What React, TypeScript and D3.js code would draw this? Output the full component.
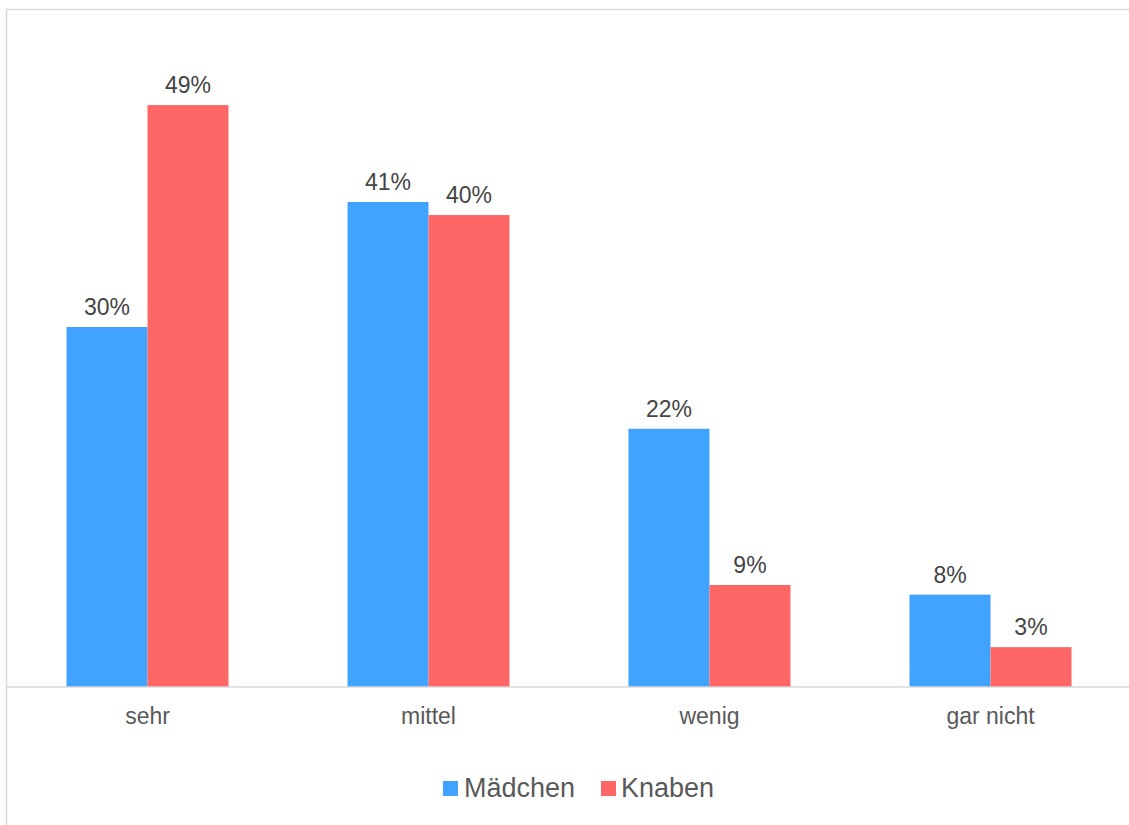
import React from "react";
import * as d3 from "d3";

const categories = ["sehr", "mittel", "wenig", "gar nicht"];
const seriesNames = ["Mädchen", "Knaben"];
const maedchen = [30.25, 40.76, 21.7, 7.76];
const knaben = [48.9, 39.66, 8.57, 3.35];
const colors = ["#40A3FF", "#FF6666"];

const W = 1129;
const H = 825;
const FONT = "'Liberation Sans', Arial, sans-serif";

export default function App() {
  const baseline = 687;
  const x0 = d3
    .scaleBand<string>()
    .domain(categories)
    .range([7, 1131])
    .paddingInner(0.4235)
    .paddingOuter(0.21175);
  const x1 = d3
    .scaleBand<string>()
    .domain(seriesNames)
    .range([0, x0.bandwidth()]);
  const y = d3.scaleLinear().domain([0, 50]).range([baseline, baseline - 595]);
  const data = [maedchen, knaben];

  return (
    <div style={{ position: "fixed", left: 0, top: 0, width: W, height: H, overflow: "hidden", background: "#fff" }}>
      <svg width={W} height={H} style={{ display: "block" }} fontFamily={FONT}>
        <line x1={6.5} x2={W} y1={9.5} y2={9.5} stroke="#d9d9d9" strokeWidth={1.5} />
        <line x1={6.5} x2={6.5} y1={9.5} y2={H} stroke="#d9d9d9" strokeWidth={1.5} />
        {categories.map((c, i) => (
          <g key={c}>
            {seriesNames.map((s, j) => {
              const v = data[j][i];
              const bx = (x0(c) as number) + (x1(s) as number);
              return (
                <g key={s}>
                  <rect
                    x={bx}
                    y={y(v)}
                    width={x1.bandwidth()}
                    height={baseline - y(v)}
                    fill={colors[j]}
                  />
                  <text
                    x={bx + x1.bandwidth() / 2}
                    y={y(v) - 12}
                    textAnchor="middle"
                    fontSize={23}
                    fill="#444444"
                  >
                    {Math.round(v)}%
                  </text>
                </g>
              );
            })}
            <text
              x={(x0(c) as number) + x0.bandwidth() / 2}
              y={724}
              textAnchor="middle"
              fontSize={23}
              fill="#595959"
            >
              {c}
            </text>
          </g>
        ))}
        <line x1={7} x2={W} y1={baseline} y2={baseline} stroke="#d9d9d9" strokeWidth={1.5} />
        <g>
          <rect x={443} y={781} width={15} height={15} fill={colors[0]} />
          <text x={464} y={797} fontSize={27} fill="#595959">
            {seriesNames[0]}
          </text>
          <rect x={601} y={781} width={15} height={15} fill={colors[1]} />
          <text x={621} y={797} fontSize={27} fill="#595959">
            {seriesNames[1]}
          </text>
        </g>
      </svg>
    </div>
  );
}
